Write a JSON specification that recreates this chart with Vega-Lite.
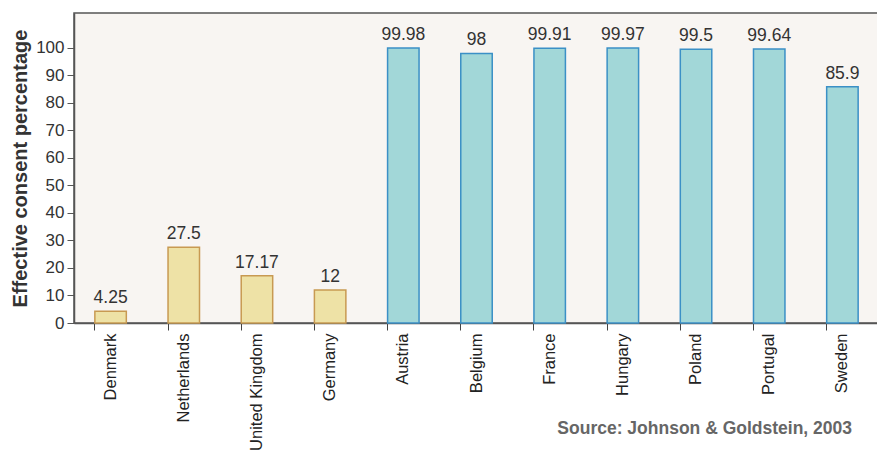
{
  "$schema": "https://vega.github.io/schema/vega-lite/v6.json",
  "width": 805,
  "height": 310,
  "autosize": {"type": "none"},
  "padding": {"left": 74, "top": 13, "right": 0, "bottom": 135},
  "background": "#ffffff",
  "config": {
    "font": "Liberation Sans",
    "view": {"fill": "#f8f5f2", "stroke": "#555555", "strokeWidth": 1.5}
  },
  "title": {
    "text": "Source: Johnson & Goldstein, 2003",
    "orient": "bottom",
    "anchor": "end",
    "frame": "group",
    "fontSize": 17.5,
    "fontWeight": "bold",
    "color": "#666666",
    "offset": -30,
    "dx": -27
  },
  "data": {
    "values": [
      {"country": "Denmark", "value": 4.25, "group": "opt-in"},
      {"country": "Netherlands", "value": 27.5, "group": "opt-in"},
      {"country": "United Kingdom", "value": 17.17, "group": "opt-in"},
      {"country": "Germany", "value": 12, "group": "opt-in"},
      {"country": "Austria", "value": 99.98, "group": "opt-out"},
      {"country": "Belgium", "value": 98, "group": "opt-out"},
      {"country": "France", "value": 99.91, "group": "opt-out"},
      {"country": "Hungary", "value": 99.97, "group": "opt-out"},
      {"country": "Poland", "value": 99.5, "group": "opt-out"},
      {"country": "Portugal", "value": 99.64, "group": "opt-out"},
      {"country": "Sweden", "value": 85.9, "group": "opt-out"}
    ]
  },
  "encoding": {
    "x": {
      "field": "country",
      "type": "nominal",
      "sort": null,
      "scale": {"paddingInner": 0.57, "paddingOuter": 0.285},
      "axis": {
        "title": null,
        "labelAngle": -90,
        "labelAlign": "right",
        "labelBaseline": "middle",
        "labelFontSize": 16.5,
        "labelColor": "#222222",
        "labelPadding": 3,
        "bandPosition": 0,
        "ticks": true,
        "tickSize": 7,
        "tickColor": "#444444",
        "domainColor": "#555555",
        "domainWidth": 1.5
      }
    },
    "y": {
      "field": "value",
      "type": "quantitative",
      "scale": {"domain": [0, 112.7], "nice": false},
      "axis": {
        "title": "Effective consent percentage",
        "titleFontSize": 20,
        "titleFontWeight": "bold",
        "titleColor": "#333333",
        "titlePadding": 5,
        "values": [0, 10, 20, 30, 40, 50, 60, 70, 80, 90, 100],
        "grid": false,
        "labelFontSize": 17,
        "labelColor": "#333333",
        "labelPadding": 3,
        "tickSize": 7,
        "tickColor": "#555555",
        "domainColor": "#555555",
        "domainWidth": 1.5
      }
    }
  },
  "layer": [
    {
      "mark": {"type": "bar", "strokeWidth": 1.5},
      "encoding": {
        "fill": {
          "field": "group",
          "type": "nominal",
          "scale": {"domain": ["opt-in", "opt-out"], "range": ["#eee2a6", "#a2d7d8"]},
          "legend": null
        },
        "stroke": {
          "field": "group",
          "type": "nominal",
          "scale": {"domain": ["opt-in", "opt-out"], "range": ["#c89a52", "#3b90c6"]},
          "legend": null
        }
      }
    },
    {
      "mark": {"type": "text", "baseline": "bottom", "dy": -4, "fontSize": 17.5, "color": "#333333"},
      "encoding": {
        "text": {"field": "value", "type": "quantitative"}
      }
    }
  ]
}
